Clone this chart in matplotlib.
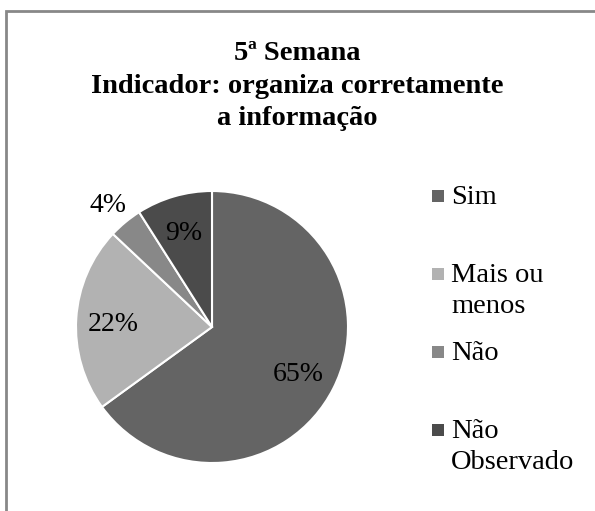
import numpy as np
import matplotlib.pyplot as plt
from matplotlib.patches import Rectangle

# Respostas da 5ª semana
categorias = ['Sim', 'Mais ou\nmenos', 'Não', 'Não\nObservado']
percentagens = [65, 22, 4, 9]
cores = ['#646464', '#b2b2b2', '#888888', '#4b4b4b']

plt.rcParams['font.family'] = ['Liberation Serif', 'DejaVu Serif']

fig = plt.figure(figsize=(5.95, 5.11), dpi=100)
ax = fig.add_axes([0, 0, 1, 1])

cx, cy, r = 212, 184, 136
wedges, _ = ax.pie(percentagens, colors=cores, startangle=90, counterclock=False,
                   center=(cx, cy), radius=r, frame=True,
                   wedgeprops=dict(edgecolor='white', linewidth=1.5))
ax.set_xlim(0, 595)
ax.set_ylim(0, 511)
ax.set_aspect('equal')
ax.axis('off')

# moldura do gráfico
ax.add_patch(Rectangle((6, -5), 600, 505, fill=False, edgecolor='#888888', lw=2))

ax.text(297, 425, '5ª Semana\nIndicador: organiza corretamente\na informação',
        ha='center', va='center', fontsize=20.5, fontweight='bold', linespacing=1.38)

# rótulos com a percentagem de cada fatia
dist = [0.71, 0.73, 1.2, 0.75]
for w, p, d in zip(wedges, percentagens, dist):
    ang = np.deg2rad((w.theta1 + w.theta2) / 2)
    ax.text(cx + d * r * np.cos(ang), cy + d * r * np.sin(ang) - 4, f'{p}%',
            ha='center', va='center', fontsize=20, color='black')

# legenda
for i, (cat, cor) in enumerate(zip(categorias, cores)):
    y = 511 - 196 - 78 * i
    ax.scatter([438], [y], marker='s', s=65, color=cor, linewidths=0)
    ax.text(451, y + 11, cat, ha='left', va='top', fontsize=20.5, linespacing=1.3)

fig.savefig('out.png', dpi=100)
